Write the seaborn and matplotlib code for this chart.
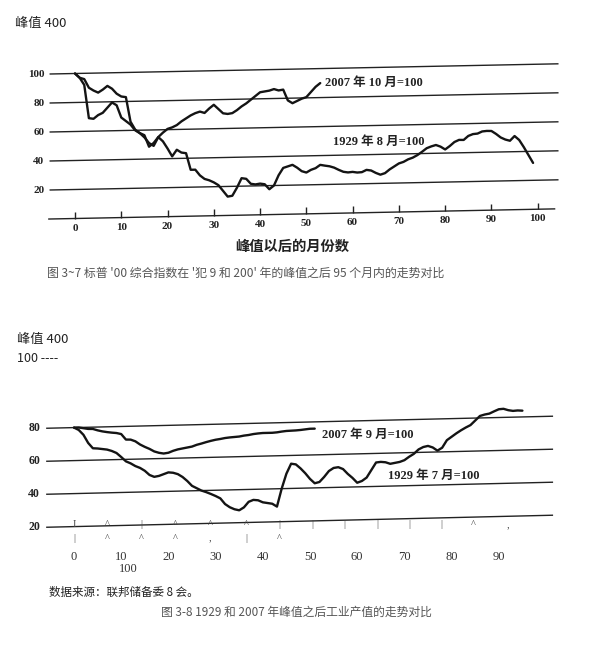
import numpy as np
import seaborn as sns
import matplotlib.pyplot as plt
import matplotlib.transforms as mtransforms

# ---------------- data ----------------
# Fig 3-7: S&P composite, months after the peak (peak = 100)
months_29a = list(range(0, 100))
sp_1929 = [100, 97, 92, 69, 68.5, 71, 72.5, 76, 79.5, 77.5,
           69, 66.5, 64, 60, 58, 55, 51, 49, 55, 52,
           47, 41.5, 46, 44, 43.5, 32, 32, 28, 25.5, 24.5,
           23, 21, 17, 13, 13.5, 19, 25.5, 25, 21.5, 21,
           21.5, 21, 17.5, 20, 27, 32, 33, 34, 32, 29.5,
           28.5, 30.3, 31.4, 33.6, 33, 32.5, 31.5, 29.9, 28.5, 28,
           28.3, 27.8, 28, 29.5, 29, 27.3, 26, 27, 29.5, 31.5,
           33.5, 34.5, 36.2, 37.3, 39, 41.2, 43.6, 44.8, 45.7, 44.5,
           42.5, 44.8, 47.5, 48.9, 48.8, 51.5, 52.7, 53, 54.4, 54.7,
           54.6, 52.5, 50, 48.5, 47.6, 50.8, 48, 43, 37.5, 32]
months_07a = list(range(0, 54))
sp_2007 = [100, 97, 96, 90, 88, 86.5, 88.5, 91, 89, 85.5,
           83.5, 83, 66, 60.5, 58, 56.5, 48.5, 51, 55, 58,
           60.5, 61.5, 63, 65.5, 67.5, 69.5, 71, 72, 71, 74,
           76.5, 73.5, 70.5, 70, 70.5, 72.5, 75, 77, 79.5, 82,
           84.5, 85, 85.5, 86.5, 85.5, 86, 78.5, 76.5, 78, 79.5,
           80.5, 84, 87.5, 90]
grid_a = [100, 80, 60, 40, 20]
xticks_a = [0, 10, 20, 30, 40, 50, 60, 70, 80, 90, 100]

# Fig 3-8: industrial production after the peak
months_29b = list(range(0, 96))
ip_1929 = [80, 78.5, 75.5, 70.5, 67.2, 67, 66.6, 66.2, 65.3, 64,
           61.5, 58.8, 57.5, 55.8, 54.6, 52.8, 50.2, 49, 49.5, 50.5,
           51.5, 51.2, 50.3, 48.5, 46, 43, 41.5, 40, 39, 37.8,
           36.5, 35, 31.5, 29.5, 28.2, 27.5, 29.2, 32.5, 33.6, 33.3,
           32, 31.5, 31, 29.2, 40, 49, 55, 54.5, 52, 49,
           45.5, 42.8, 43.5, 46.5, 50, 51.8, 52.2, 51, 48, 45.5,
           42.5, 43.5, 45.5, 50, 54.5, 54.8, 54.5, 53.5, 54, 54.5,
           55.5, 57.5, 59.2, 61.8, 63.2, 63.8, 62.8, 60.8, 62.5, 67,
           69, 71, 72.8, 74.4, 75.8, 78.5, 81.2, 82, 82.5, 83.8,
           85, 85.2, 84.3, 83.8, 84, 83.8]
months_07b = list(range(0, 52))
ip_2007 = [80, 80, 79.5, 79, 78.9, 78, 77.3, 76.8, 76.4, 76.1,
           75.4, 72, 71.9, 70.8, 68.8, 67.3, 66, 64.4, 63.5, 63,
           63.4, 64.5, 65.3, 65.8, 66.3, 66.8, 67.8, 68.5, 69.3, 70,
           70.6, 71, 71.5, 71.8, 72, 72.2, 72.7, 73, 73.5, 73.8,
           74, 74, 74, 74.2, 74.6, 74.9, 75, 75.1, 75.3, 75.6,
           75.9, 75.9]
grid_b = [80, 60, 40, 20]
xticks_b = [0, 10, 20, 30, 40, 50, 60, 70, 80, 90]
# stray tick marks of the scanned page (two rows)
marks_row1 = ['I', '^', '|', '^', '^', '^', '|', '|', '|', '|', '|', '|', '^', ',']
marks_row1_m = [0, 7, 14.2, 21.4, 28.8, 36.4, 43.4, 50.4, 57.2, 64.2, 71, 77.8, 84.7, 92]
marks_row2 = ['|', '^', '^', '^', ',', '|', '^']
marks_row2_m = [0, 7, 14.2, 21.4, 28.8, 36.4, 43.4]

# ---------------- figure ----------------
sns.set_style("white")
plt.rcParams['font.family'] = ['DejaVu Sans', 'Noto Sans CJK SC']
SERIF = ['Liberation Serif', 'Noto Sans CJK SC']
CJK = ['Noto Sans CJK SC', 'DejaVu Sans']
INK = '#141414'

W, H = 610, 652
fig = plt.figure(figsize=(W / 100, H / 100), dpi=100)
fig.patch.set_facecolor('white')


def add_panel(x0, mpx, yref, vpx, vref, xlim, ylim):
    # month m -> x0 + mpx*m px ; value v -> yref + (vref - v)*vpx px from top
    left, right = x0 + mpx * xlim[0], x0 + mpx * xlim[1]
    top, bot = yref + (vref - ylim[1]) * vpx, yref + (vref - ylim[0]) * vpx
    ax = fig.add_axes([left / W, 1 - bot / H, (right - left) / W, (bot - top) / H])
    ax.set_xlim(*xlim)
    ax.set_ylim(*ylim)
    ax.axis('off')
    return ax


def tilted(ax, s):
    # the scanned page is slightly rotated: shear the data frame
    return mtransforms.Affine2D(np.array([[1, 0, 0], [s, 1, 0], [0, 0, 1.0]])) + ax.transData


# ---- chart 1 ----
ax1 = add_panel(75, 4.627, 73.5, 1.45, 100, (-6, 104), (-12, 112))
tr1 = tilted(ax1, 0.064)
ax1.hlines(grid_a, -5.5, 104.5, color='#222', lw=1.0, transform=tr1, clip_on=False)
ax1.hlines(0, -5.8, 103.8, color='#222', lw=1.0, transform=tr1, clip_on=False)
ax1.vlines(xticks_a, 0, 4.5, color='#222', lw=1.0, transform=tr1, clip_on=False)
for t in xticks_a:
    ax1.text(t, -6.7, str(t), transform=tr1, ha='center', va='center',
             fontsize=8, fontweight='bold', family=SERIF, color='#222')
for g in grid_a:
    ax1.text(-6.6, g, str(g), transform=tr1, ha='right', va='center',
             fontsize=8, fontweight='bold', family=SERIF, color='#222')
sns.lineplot(x=months_29a, y=sp_1929, ax=ax1, color=INK, lw=1.7,
             transform=tr1, clip_on=False)
sns.lineplot(x=months_07a, y=sp_2007, ax=ax1, color=INK, lw=1.7,
             transform=tr1, clip_on=False)
ax1.set_xlim(-6, 104)
ax1.set_ylim(-12, 112)
ax1.text(54, 90.3, '2007 年 10 月=100', transform=tr1, ha='left', va='center',
         fontsize=9, fontweight='bold', family=SERIF, color='#222')
ax1.text(55.8, 49.4, '1929 年 8 月=100', transform=tr1, ha='left', va='center',
         fontsize=9, fontweight='bold', family=SERIF, color='#222')

fig.text(15 / W, 1 - 23 / H, '峰值 400', fontsize=9.5, family=CJK, color='#222', va='center')
fig.text(292 / W, 1 - 247 / H, '峰值以后的月份数', fontsize=10.3, fontweight='bold',
         family=CJK, color='#222', ha='center', va='center')
fig.text(47 / W, 1 - 273 / H,
         "图 3~7 标普 '00 综合指数在 '犯 9 和 200' 年的峰值之后 95 个月内的走势对比",
         fontsize=8.6, family=CJK, color='#555', va='center')

# ---- chart 2 ----
ax2 = add_panel(74, 4.72, 427.6, 1.65, 80, (-6, 104), (0, 100))
tr2 = tilted(ax2, 0.068)
ax2.hlines(grid_b, -5.9, 101.5, color='#222', lw=1.0, transform=tr2, clip_on=False)
for g in grid_b:
    ax2.text(-7.2, g, str(g), transform=tr2, ha='right', va='center',
             fontsize=8.5, fontweight='bold', family=SERIF, color='#222')
sns.lineplot(x=months_29b, y=ip_1929, ax=ax2, color=INK, lw=1.7,
             transform=tr2, clip_on=False)
sns.lineplot(x=months_07b, y=ip_2007, ax=ax2, color=INK, lw=1.7,
             transform=tr2, clip_on=False)
ax2.set_xlim(-6, 104)
ax2.set_ylim(0, 100)
ax2.text(52.5, 72, '2007 年 9 月=100', transform=tr2, ha='left', va='center',
         fontsize=9, fontweight='bold', family=SERIF, color='#222')
ax2.text(66.6, 46.2, '1929 年 7 月=100', transform=tr2, ha='left', va='center',
         fontsize=9, fontweight='bold', family=SERIF, color='#222')
for m, s in zip(marks_row1_m, marks_row1):
    ax2.text(m, 21, s, ha='center', va='center', fontsize=7.5, family=SERIF, color='#444')
for m, s in zip(marks_row2_m, marks_row2):
    ax2.text(m, 13, s, ha='center', va='center', fontsize=7.5, family=SERIF, color='#444')
for t in xticks_b:
    ax2.text(t, 1.6, str(t), ha='center', va='center', fontsize=9,
             family=SERIF, color='#333')
ax2.text(11.4, -5.7, '100', ha='center', va='center', fontsize=9,
         family=SERIF, color='#333')

fig.text(17 / W, 1 - 340 / H, '峰值 400', fontsize=9.5, family=CJK, color='#222', va='center')
fig.text(17 / W, 1 - 358 / H, '100 ----', fontsize=9, family=CJK, color='#222', va='center')
fig.text(49 / W, 1 - 592 / H, '数据来源：联邦储备委 8 会。', fontsize=8.3,
         family=CJK, color='#222', va='center')
fig.text(296 / W, 1 - 612 / H, '图 3-8 1929 和 2007 年峰值之后工业产值的走势对比',
         fontsize=8.5, family=CJK, color='#555', ha='center', va='center')

fig.savefig('out.png', dpi=100, facecolor='white')
